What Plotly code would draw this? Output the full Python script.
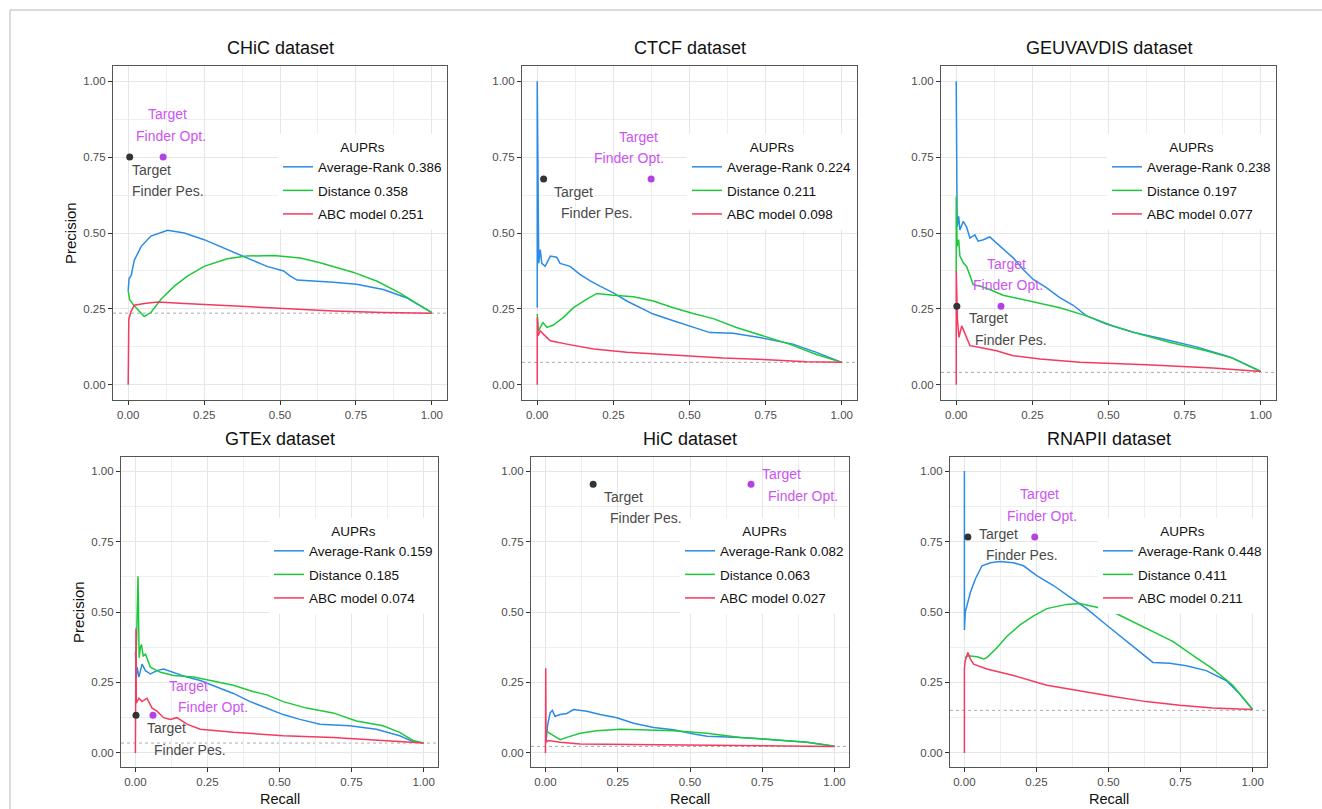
import plotly.graph_objects as go

W, H = 1322, 809

titles = ["CHiC dataset", "CTCF dataset", "GEUVAVDIS dataset",
          "GTEx dataset", "HiC dataset", "RNAPII dataset"]
methods = ["Average-Rank", "Distance", "ABC model"]
auprs = [[0.386, 0.358, 0.251], [0.224, 0.211, 0.098], [0.238, 0.197, 0.077],
         [0.159, 0.185, 0.074], [0.082, 0.063, 0.027], [0.448, 0.411, 0.211]]
baseline = [0.236, 0.074, 0.041, 0.035, 0.023, 0.151]

# ---- CHiC
chic_avg_r = [0, 0.003, 0.01, 0.02, 0.043, 0.075, 0.13, 0.185, 0.25, 0.326, 0.39, 0.457, 0.512, 0.534, 0.556, 0.62, 0.676, 0.752, 0.84, 0.916, 1.0]
chic_avg_p = [0.31, 0.35, 0.36, 0.41, 0.456, 0.49, 0.509, 0.5, 0.478, 0.445, 0.418, 0.39, 0.375, 0.358, 0.345, 0.342, 0.338, 0.331, 0.314, 0.287, 0.238]
chic_dist_r = [0, 0.005, 0.02, 0.053, 0.075, 0.108, 0.152, 0.195, 0.25, 0.326, 0.39, 0.48, 0.567, 0.632, 0.74, 0.818, 0.894, 0.95, 1.0]
chic_dist_p = [0.31, 0.28, 0.26, 0.225, 0.238, 0.282, 0.325, 0.358, 0.39, 0.415, 0.424, 0.426, 0.418, 0.402, 0.371, 0.342, 0.303, 0.27, 0.238]
chic_abc_r = [0, 0.002, 0.01, 0.02, 0.053, 0.097, 0.185, 0.348, 0.512, 0.676, 0.84, 1.0]
chic_abc_p = [0, 0.216, 0.243, 0.262, 0.268, 0.273, 0.268, 0.26, 0.251, 0.243, 0.238, 0.236]

# ---- CTCF
ctcf_avg_r = [0, 0, 0.005, 0.01, 0.015, 0.026, 0.043, 0.064, 0.075, 0.108, 0.14, 0.174, 0.206, 0.25, 0.294, 0.337, 0.381, 0.447, 0.512, 0.567, 0.643, 0.73, 0.84, 0.917, 1.0]
ctcf_avg_p = [0.254, 1.0, 0.40, 0.445, 0.40, 0.39, 0.424, 0.42, 0.40, 0.39, 0.364, 0.342, 0.325, 0.303, 0.276, 0.254, 0.233, 0.211, 0.189, 0.172, 0.17, 0.156, 0.134, 0.107, 0.074]
ctcf_dist_r = [0, 0.004, 0.01, 0.019, 0.032, 0.053, 0.086, 0.119, 0.163, 0.196, 0.25, 0.316, 0.381, 0.447, 0.512, 0.578, 0.654, 0.742, 0.828, 0.917, 1.0]
ctcf_dist_p = [0.233, 0.178, 0.189, 0.205, 0.189, 0.197, 0.222, 0.254, 0.282, 0.301, 0.295, 0.29, 0.276, 0.254, 0.235, 0.218, 0.189, 0.162, 0.134, 0.10, 0.074]
ctcf_abc_r = [0, 0, 0.003, 0.01, 0.02, 0.043, 0.097, 0.185, 0.294, 0.447, 0.61, 0.774, 0.883, 1.0]
ctcf_abc_p = [0, 0.222, 0.162, 0.178, 0.167, 0.145, 0.134, 0.118, 0.107, 0.098, 0.088, 0.082, 0.076, 0.074]

# ---- GEUVADIS
geu_avg_r = [0, 0.001, 0.003, 0.008, 0.012, 0.023, 0.034, 0.045, 0.061, 0.072, 0.089, 0.11, 0.132, 0.154, 0.187, 0.22, 0.253, 0.296, 0.34, 0.384, 0.428, 0.493, 0.58, 0.68, 0.789, 0.898, 1.0]
geu_avg_p = [1.0, 0.52, 0.52, 0.555, 0.51, 0.538, 0.52, 0.483, 0.494, 0.473, 0.478, 0.487, 0.467, 0.445, 0.418, 0.38, 0.347, 0.32, 0.287, 0.262, 0.227, 0.2, 0.173, 0.151, 0.125, 0.092, 0.044]
geu_dist_r = [0, 0, 0.003, 0.008, 0.012, 0.023, 0.034, 0.045, 0.056, 0.078, 0.11, 0.154, 0.22, 0.275, 0.34, 0.428, 0.515, 0.603, 0.70, 0.82, 0.91, 1.0]
geu_dist_p = [0.37, 0.62, 0.456, 0.478, 0.424, 0.402, 0.39, 0.358, 0.33, 0.325, 0.314, 0.295, 0.28, 0.27, 0.254, 0.227, 0.194, 0.167, 0.14, 0.112, 0.087, 0.044]
geu_abc_r = [0, 0, 0.004, 0.009, 0.018, 0.028, 0.045, 0.078, 0.132, 0.187, 0.275, 0.406, 0.625, 0.843, 1.0]
geu_abc_p = [0, 0.375, 0.216, 0.156, 0.194, 0.172, 0.129, 0.123, 0.112, 0.096, 0.085, 0.074, 0.066, 0.055, 0.044]

# ---- GTEx
gtex_avg_r = [0, 0.003, 0.006, 0.012, 0.023, 0.035, 0.052, 0.075, 0.098, 0.133, 0.179, 0.225, 0.283, 0.34, 0.398, 0.456, 0.513, 0.571, 0.64, 0.744, 0.836, 0.917, 0.963, 1.0]
gtex_avg_p = [0.36, 0.269, 0.304, 0.269, 0.315, 0.292, 0.28, 0.292, 0.298, 0.286, 0.269, 0.257, 0.234, 0.211, 0.182, 0.159, 0.136, 0.119, 0.102, 0.096, 0.084, 0.061, 0.04, 0.035]
gtex_dist_r = [0.002, 0.006, 0.009, 0.013, 0.017, 0.021, 0.027, 0.035, 0.052, 0.087, 0.133, 0.202, 0.26, 0.34, 0.41, 0.456, 0.513, 0.594, 0.686, 0.767, 0.859, 0.917, 0.963, 1.0]
gtex_dist_p = [0.304, 0.465, 0.627, 0.338, 0.373, 0.385, 0.344, 0.35, 0.304, 0.286, 0.275, 0.269, 0.257, 0.24, 0.217, 0.206, 0.182, 0.159, 0.142, 0.113, 0.096, 0.073, 0.044, 0.035]
gtex_abc_r = [0, 0.002, 0.003, 0.012, 0.023, 0.04, 0.058, 0.075, 0.098, 0.121, 0.144, 0.179, 0.225, 0.34, 0.513, 0.686, 0.859, 1.0]
gtex_abc_p = [0, 0.442, 0.177, 0.194, 0.182, 0.194, 0.159, 0.148, 0.125, 0.119, 0.125, 0.102, 0.084, 0.073, 0.061, 0.055, 0.044, 0.035]

# ---- HiC
hic_avg_r = [0.002, 0.007, 0.016, 0.024, 0.033, 0.051, 0.074, 0.097, 0.143, 0.189, 0.247, 0.305, 0.374, 0.443, 0.513, 0.559, 0.674, 0.79, 0.905, 1.0]
hic_avg_p = [0.038, 0.096, 0.142, 0.151, 0.13, 0.136, 0.14, 0.154, 0.148, 0.136, 0.125, 0.105, 0.09, 0.082, 0.067, 0.059, 0.055, 0.047, 0.038, 0.024]
hic_dist_r = [0.002, 0.01, 0.028, 0.051, 0.074, 0.12, 0.178, 0.259, 0.328, 0.443, 0.559, 0.674, 0.79, 0.905, 1.0]
hic_dist_p = [0.084, 0.073, 0.061, 0.047, 0.055, 0.07, 0.079, 0.084, 0.082, 0.079, 0.07, 0.055, 0.047, 0.038, 0.024]
hic_abc_r = [0, 0.001, 0.002, 0.01, 0.051, 0.12, 0.328, 0.559, 0.79, 1.0]
hic_abc_p = [0, 0.30, 0.038, 0.044, 0.038, 0.032, 0.03, 0.029, 0.027, 0.023]

# ---- RNAPII
rna_avg_r = [0, 0, 0.003, 0.009, 0.021, 0.038, 0.061, 0.09, 0.124, 0.17, 0.205, 0.251, 0.309, 0.366, 0.424, 0.493, 0.562, 0.62, 0.654, 0.712, 0.77, 0.839, 0.908, 0.954, 1.0]
rna_avg_p = [1.0, 0.436, 0.5, 0.523, 0.57, 0.617, 0.664, 0.675, 0.679, 0.675, 0.664, 0.629, 0.594, 0.553, 0.512, 0.454, 0.396, 0.35, 0.321, 0.318, 0.309, 0.292, 0.257, 0.211, 0.154]
rna_dist_r = [0.003, 0.009, 0.021, 0.044, 0.067, 0.078, 0.113, 0.147, 0.193, 0.24, 0.286, 0.355, 0.4, 0.459, 0.516, 0.585, 0.654, 0.723, 0.804, 0.862, 0.931, 1.0]
rna_dist_p = [0.338, 0.344, 0.344, 0.341, 0.333, 0.338, 0.373, 0.413, 0.454, 0.486, 0.512, 0.527, 0.53, 0.517, 0.5, 0.465, 0.43, 0.396, 0.338, 0.298, 0.24, 0.154]
rna_abc_r = [0, 0, 0.003, 0.012, 0.021, 0.032, 0.078, 0.17, 0.286, 0.4, 0.516, 0.631, 0.747, 0.862, 1.0]
rna_abc_p = [0, 0.30, 0.327, 0.356, 0.333, 0.315, 0.298, 0.275, 0.24, 0.219, 0.2, 0.182, 0.169, 0.159, 0.154]

curves = [
    [(chic_avg_r, chic_avg_p), (chic_dist_r, chic_dist_p), (chic_abc_r, chic_abc_p)],
    [(ctcf_avg_r, ctcf_avg_p), (ctcf_dist_r, ctcf_dist_p), (ctcf_abc_r, ctcf_abc_p)],
    [(geu_avg_r, geu_avg_p), (geu_dist_r, geu_dist_p), (geu_abc_r, geu_abc_p)],
    [(gtex_avg_r, gtex_avg_p), (gtex_dist_r, gtex_dist_p), (gtex_abc_r, gtex_abc_p)],
    [(hic_avg_r, hic_avg_p), (hic_dist_r, hic_dist_p), (hic_abc_r, hic_abc_p)],
    [(rna_avg_r, rna_avg_p), (rna_dist_r, rna_dist_p), (rna_abc_r, rna_abc_p)],
]

# TargetFinder points
tf_pes_recall = [0.005, 0.021, 0.002, 0.002, 0.165, 0.012]
tf_opt_recall = [0.115, 0.374, 0.147, 0.061, 0.711, 0.244]
tf_precision = [0.75, 0.678, 0.259, 0.134, 0.953, 0.766]

# ---- styling / layout (pixels)
colors = ["#2B8CE6", "#1DC93B", "#F63A5E"]
pes_color, opt_color = "#333333", "#B342E6"
pes_text_color, opt_text_color = "#4A4A4A", "#CC55F2"
FONT = "Liberation Sans, Arial, Helvetica, sans-serif"

# panel boxes in pixels: (left, right, top, bottom)
boxes = [(113, 447, 66, 400), (522, 857, 66, 400), (941, 1276, 66, 400),
         (121, 438, 457, 767), (531, 849, 457, 767), (950, 1267, 457, 767)]
title_y = [48, 48, 48, 439, 439, 439]
legend_top = [134, 134, 134, 518, 518, 518]

# label offsets (dx, dy) in pixels relative to the point: line1, line2
opt_offsets = [[(4.5, -42.7), (7.5, -20.7)], [(-12.8, -42), (-22.3, -21)], [(5, -42), (7, -21)],
               [(35.8, -29.3), (60.3, -8.3)], [(30.8, -10), (52.3, 12)], [(4.3, -43), (7.3, -21)]]
pes_offsets = [[(21.8, 13.3), (37.8, 34.3)], [(30.2, 13), (53.2, 34)], [(31.5, 12), (54, 34)],
               [(30.3, 12.7), (54.3, 34.7)], [(30.5, 13), (52.5, 34)], [(30.2, -3), (53.7, 18)]]


def px(x):
    return x / W


def py(y):
    return 1 - y / H


fig = go.Figure()
annotations = []
shapes = []
layout = dict()

for i in range(6):
    k = "" if i == 0 else str(i + 1)
    xa, ya = "x" + k, "y" + k
    leg = "legend" + k
    l, r, t, b = boxes[i]
    axis_common = dict(
        range=[-0.05, 1.05],
        tickvals=[0, 0.25, 0.5, 0.75, 1.0], ticktext=["0.00", "0.25", "0.50", "0.75", "1.00"],
        showgrid=True, gridcolor="#E6E6E6", gridwidth=1.3,
        minor=dict(dtick=0.125, tick0=0, showgrid=True, gridcolor="#EFEFEF", gridwidth=0.8),
        zeroline=False, showline=True, mirror=True, linecolor="#555555", linewidth=1.1,
        ticks="outside", ticklen=4, tickwidth=1.1, tickcolor="#333333",
        tickfont=dict(family=FONT, size=11.5, color="#4D4D4D"),
    )
    layout["xaxis" + k] = dict(domain=[px(l), px(r)], anchor=ya, **axis_common)
    layout["yaxis" + k] = dict(domain=[py(b), py(t)], anchor=xa, **axis_common)
    # baseline
    shapes.append(dict(type="line", xref=xa + " domain", yref=ya, x0=0, x1=1,
                       y0=baseline[i], y1=baseline[i],
                       line=dict(color="#AAAAAA", width=1, dash="dot"), layer="below"))
    # curves
    for j in range(3):
        rr, pp = curves[i][j]
        fig.add_trace(go.Scatter(
            x=rr, y=pp, mode="lines", xaxis=xa, yaxis=ya, legend=leg,
            legendgroup=f"g{i}_{j}",
            name=f"{methods[j]} {auprs[i][j]:.3f}",
            line=dict(color=colors[j], width=1.5), showlegend=True))
    # points
    fig.add_trace(go.Scatter(x=[tf_pes_recall[i]], y=[tf_precision[i]], mode="markers",
                             xaxis=xa, yaxis=ya, showlegend=False,
                             marker=dict(color=pes_color, size=7)))
    fig.add_trace(go.Scatter(x=[tf_opt_recall[i]], y=[tf_precision[i]], mode="markers",
                             xaxis=xa, yaxis=ya, showlegend=False,
                             marker=dict(color=opt_color, size=7)))
    # labels
    for (dx, dy), txt in zip(opt_offsets[i], ["Target", "Finder Opt."]):
        annotations.append(dict(x=tf_opt_recall[i], y=tf_precision[i], xref=xa, yref=ya,
                                text=txt, showarrow=False, xshift=dx, yshift=-dy,
                                xanchor="center", yanchor="middle",
                                font=dict(family=FONT, size=14, color=opt_text_color)))
    for (dx, dy), txt in zip(pes_offsets[i], ["Target", "Finder Pes."]):
        annotations.append(dict(x=tf_pes_recall[i], y=tf_precision[i], xref=xa, yref=ya,
                                text=txt, showarrow=False, xshift=dx, yshift=-dy,
                                xanchor="center", yanchor="middle",
                                font=dict(family=FONT, size=14, color=pes_text_color)))
    # panel title
    annotations.append(dict(x=px((l + r) / 2), y=py(title_y[i]), xref="paper", yref="paper",
                            text=titles[i], showarrow=False, xanchor="center", yanchor="middle",
                            font=dict(family=FONT, size=18, color="#111111")))
    # legend
    layout[leg] = dict(
        x=px(r), y=py(legend_top[i]), xanchor="right", yanchor="top",
        xref="paper", yref="paper",
        bgcolor="white", borderwidth=0, itemwidth=30,
        title=dict(text="AUPRs", side="top center", font=dict(family=FONT, size=13.5, color="#111111")),
        font=dict(family=FONT, size=13.5, color="#111111"),
        traceorder="grouped", tracegroupgap=3,
    )

# axis titles
for yc, xc in [(233, 71), (612, 78)]:
    annotations.append(dict(x=px(xc), y=py(yc), xref="paper", yref="paper", text="Precision",
                            textangle=-90, showarrow=False, xanchor="center", yanchor="middle",
                            font=dict(family=FONT, size=15, color="#111111")))
for i in range(3, 6):
    l, r, t, b = boxes[i]
    annotations.append(dict(x=px((l + r) / 2), y=py(809), xref="paper", yref="paper", text="Recall",
                            showarrow=False, xanchor="center", yanchor="bottom",
                            font=dict(family=FONT, size=14.5, color="#111111")))

# page frame lines
shapes.append(dict(type="line", xref="paper", yref="paper", x0=px(10), x1=1, y0=py(10), y1=py(10),
                   line=dict(color="#CFCFCF", width=1.5)))
shapes.append(dict(type="line", xref="paper", yref="paper", x0=px(10), x1=px(10), y0=0, y1=py(10),
                   line=dict(color="#CFCFCF", width=1.5)))

fig.update_layout(
    width=W, height=H, margin=dict(l=0, r=0, t=0, b=0),
    paper_bgcolor="white", plot_bgcolor="white",
    annotations=annotations, shapes=shapes, **layout,
)

fig.write_html("out.html", config={"displayModeBar": False},
               post_script="document.body.style.margin='0px';document.body.style.overflow='hidden';")
